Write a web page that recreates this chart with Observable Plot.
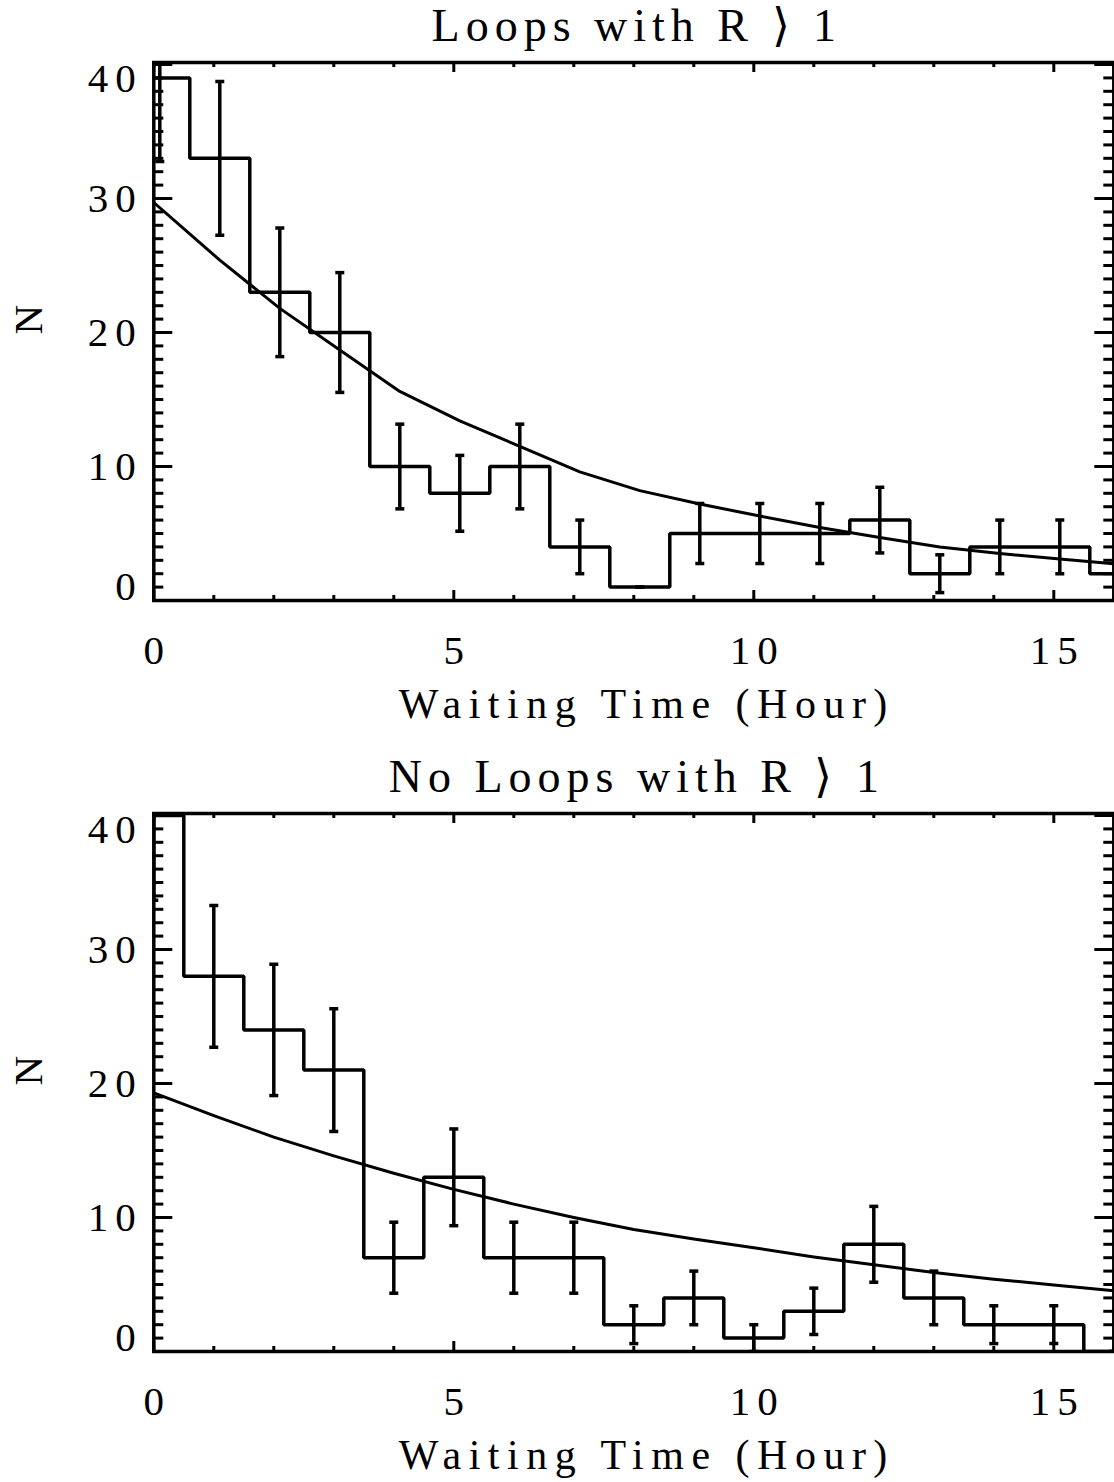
<!DOCTYPE html>
<html><head><meta charset="utf-8">
<script src="https://cdn.jsdelivr.net/npm/d3@7"></script>
<script src="https://cdn.jsdelivr.net/npm/@observablehq/plot@0.6"></script>
<style>
html,body{margin:0;padding:0;background:#fff;}
#chart{width:1114px;}
#chart svg{display:block;}
</style></head><body><div id="chart"></div>
<script>
// ---- text ----
const topTitle = "Loops with R \u27E9 1";
const bottomTitle = "No Loops with R \u27E9 1";
const xLabel = "Waiting Time (Hour)";
const yLabel = "N";
const xTickLabels = [0, 5, 10, 15];
const yTickLabels = [0, 10, 20, 30, 40];
const xMinorTicks = [1,2,3,4,6,7,8,9,11,12,13,14,16];
const yMinorTicks = [1,2,3,4,5,6,7,8,9,11,12,13,14,15,16,17,18,19,21,22,23,24,25,26,27,28,29,31,32,33,34,35,36,37,38,39];

// ---- top panel data ----
const topBinCenters = [0.1,1.1,2.1,3.1,4.1,5.1,6.1,7.1,8.1,9.1,10.1,11.1,12.1,13.1,14.1,15.1,16.1];
const topCounts     = [39, 33, 23, 20, 10, 8, 10, 4, 1, 5, 5, 5, 6, 2, 4, 4, 2];
const topErrors     = [6.24,5.74,4.80,4.47,3.16,2.83,3.16,2.00,0,2.24,2.24,2.24,2.45,1.41,2.00,2.00,1.41];
const topFitX = [0, 1.1, 2.1, 3.1, 4.1, 5.1, 6.1, 7.1, 8.1, 9.1, 10.1, 11.1, 12.1, 13.1, 14.1, 15.1, 16];
const topFitN = [29.7, 25.4, 21.8, 18.7, 15.6, 13.4, 11.5, 9.6, 8.2, 7.2, 6.3, 5.45, 4.7, 4.0, 3.5, 3.1, 2.75];

// ---- bottom panel data ----
const bottomBinCenters = [0,1,2,3,4,5,6,7,8,9,10,11,12,13,14,15,16];
const bottomCounts     = [40, 28, 24, 21, 7, 13, 7, 7, 2, 4, 1, 3, 8, 4, 2, 2, 0];
const bottomErrors     = [6.32,5.29,4.90,4.58,2.65,3.61,2.65,2.65,1.41,2.00,1.00,1.73,2.83,2.00,1.41,1.41,0];
const bottomFitX = [0,1,2,3,4,5,6,7,8,9,10,11,12,13,14,15,16];
const bottomFitN = [19.3, 17.6, 16.0, 14.6, 13.3, 12.1, 11.0, 10.0, 9.1, 8.4, 7.75, 7.06, 6.47, 5.9, 5.4, 4.96, 4.53];

// ---- layout ----
const W = 1114, ML = 153.3, MR = 0.7, MT = 62, FH = 538;
const FW = W - ML - MR;
const FONT = "'Liberation Serif', 'Times New Roman', serif";

const capSymbol = {
  draw(ctx, size) {
    const r = Math.sqrt(size / Math.PI);
    ctx.moveTo(-r, 0); ctx.lineTo(r, 0);
  }
};

function panel({title, centers, counts, errors, fitX, fitN, height}) {
  const MB = height - MT - FH;
  const steps = [];
  centers.forEach((c, i) => {
    steps.push({x: c - 0.5, y: counts[i]}, {x: c + 0.5, y: counts[i]});
  });
  const bars = centers.map((c, i) => ({x: c, lo: counts[i] - errors[i], hi: counts[i] + errors[i]}));
  const caps = bars.flatMap(d => [{x: d.x, y: d.lo}, {x: d.x, y: d.hi}]);
  const fit = fitX.map((x, i) => ({x, y: fitN[i]}));
  const yMin = yTickLabels[0], yMax = yTickLabels[yTickLabels.length - 1];
  const xMajor = xTickLabels, yMajor = yTickLabels;

  const svg = Plot.plot({
    width: W, height,
    marginLeft: ML, marginRight: MR, marginTop: MT, marginBottom: MB,
    x: {domain: [0, 16], axis: null},
    y: {domain: [0, 40.15], axis: null},
    style: {fontFamily: FONT, background: "white", color: "black", overflow: "visible"},
    marks: [
      Plot.line(fit, {x: "x", y: "y", stroke: "black", strokeWidth: 3, clip: true}),
      Plot.line(steps, {x: "x", y: "y", stroke: "black", strokeWidth: 3.5, strokeLinejoin: "miter", clip: true}),
      Plot.ruleX(bars, {x: "x", y1: "lo", y2: "hi", stroke: "black", strokeWidth: 3.5, clip: true}),
      Plot.dot(caps, {x: "x", y: "y", symbol: capSymbol, r: 4.5, stroke: "black", strokeWidth: 3.5, fill: "none", clip: true}),
      // bottom & top x ticks (inward)
      Plot.tickX(xMinorTicks, {x: d => d, insetTop: FH - 5, stroke: "black", strokeWidth: 3}),
      Plot.tickX(xMajor, {x: d => d, insetTop: FH - 10, stroke: "black", strokeWidth: 3}),
      Plot.tickX(xMinorTicks, {x: d => d, insetBottom: FH - 5, stroke: "black", strokeWidth: 3}),
      Plot.tickX(xMajor, {x: d => d, insetBottom: FH - 10, stroke: "black", strokeWidth: 3}),
      // left & right y ticks (inward)
      Plot.tickY(yMinorTicks, {y: d => d, insetRight: FW - 10, stroke: "black", strokeWidth: 3}),
      Plot.tickY(yMajor, {y: d => d, insetRight: FW - 19, stroke: "black", strokeWidth: 3}),
      Plot.tickY(yMinorTicks, {y: d => d, insetLeft: FW - 10, stroke: "black", strokeWidth: 3}),
      Plot.tickY(yMajor, {y: d => d, insetLeft: FW - 19, stroke: "black", strokeWidth: 3}),
      Plot.frame({stroke: "black", strokeWidth: 3.5}),
      // tick labels
      Plot.text(xTickLabels, {x: d => d, text: d => String(d), frameAnchor: "bottom", dy: 50, dx: 3.5,
        lineAnchor: "middle", fontSize: 41, fill: "black"}),
      Plot.text(yTickLabels.filter(v => v !== yMin && v !== yMax), {y: d => d, text: d => String(d), frameAnchor: "left",
        dx: -11, textAnchor: "end", lineAnchor: "middle", fontSize: 41, fill: "black"}),
      Plot.text(yTickLabels.filter(v => v === yMin), {y: d => d, text: d => String(d), frameAnchor: "left",
        dx: -11, dy: -14, textAnchor: "end", lineAnchor: "middle", fontSize: 41, fill: "black"}),
      Plot.text(yTickLabels.filter(v => v === yMax), {y: d => d, text: d => String(d), frameAnchor: "left",
        dx: -11, dy: 14, textAnchor: "end", lineAnchor: "middle", fontSize: 41, fill: "black"}),
      // axis labels and title
      Plot.text([xLabel], {text: d => d, frameAnchor: "bottom", dy: 104, dx: 13, lineAnchor: "middle",
        fontSize: 42, fill: "black"}),
      Plot.text([yLabel], {text: d => d, frameAnchor: "left", dx: -125, dy: 3, rotate: -90, lineAnchor: "middle",
        fontSize: 41, fill: "black"}),
      Plot.text([title], {text: d => d, frameAnchor: "top", dy: -36, dx: 3, lineAnchor: "middle",
        fontSize: 46, fill: "black"})
    ]
  });
  d3.select(svg).selectAll("text").each(function() {
    const t = this.textContent;
    if (t === yLabel) return;
    this.style.letterSpacing = (t === title) ? "6px" : (t === xLabel ? "7.5px" : "7px");
  });
  return svg;
}

const chart = document.getElementById("chart");
chart.appendChild(panel({title: topTitle, centers: topBinCenters, counts: topCounts, errors: topErrors,
  fitX: topFitX, fitN: topFitN, height: 751}));
chart.appendChild(panel({title: bottomTitle, centers: bottomBinCenters, counts: bottomCounts, errors: bottomErrors,
  fitX: bottomFitX, fitN: bottomFitN, height: 731}));
</script>
</body></html>
